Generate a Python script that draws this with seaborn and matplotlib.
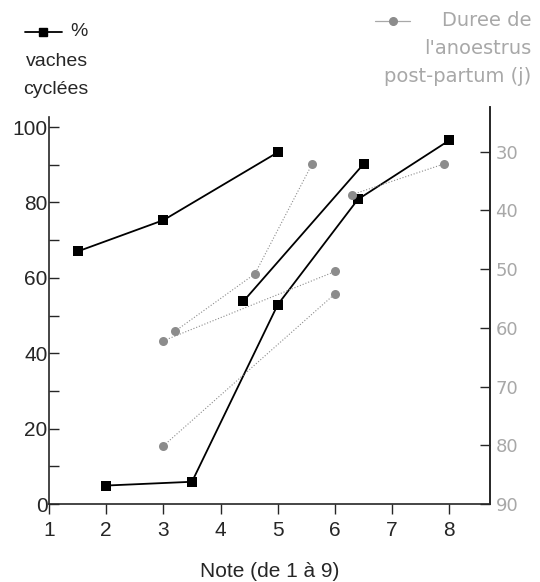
import matplotlib
matplotlib.use("Agg")
import matplotlib.pyplot as plt
import seaborn as sns
import pandas as pd
from matplotlib.lines import Line2D

# % vaches cyclées (left axis), one list per curve
cyc_x = [[1.5, 3, 5], [4.4, 6.5], [2, 3.5, 5, 6.4, 8]]
cyc_y = [[67, 75.3, 93.3], [53.8, 90.2], [4.9, 5.9, 52.9, 80.8, 96.5]]

# Durée de l'anoestrus post-partum en jours (right axis, inverted)
dur_x = [[3.2, 4.6, 5.6], [3, 6], [3, 6], [6.3, 7.9]]
dur_y = [[60.6, 50.8, 32.1], [62.2, 50.4], [80.1, 54.2], [37.3, 32.1]]

x_ticks = [1, 2, 3, 4, 5, 6, 7, 8]
left_ticks = [0, 20, 40, 60, 80, 100]
left_minor = [10, 30, 50, 70, 90]
right_ticks = [30, 40, 50, 60, 70, 80, 90]

GRAY = "#8c8c8c"
LIGHT = "#a8a8a8"
WIDE = ["DejaVu Sans"]

sns.set_style("ticks")
plt.rcParams["font.family"] = ["Liberation Sans", "DejaVu Sans"]

fig = plt.figure(figsize=(5.4, 5.82), dpi=100)
ax = fig.add_axes([0.0907, 0.134, 0.8167, 0.682])
ax2 = ax.twinx()

for xs, ys in zip(cyc_x, cyc_y):
    df = pd.DataFrame({"note": xs, "val": ys})
    sns.lineplot(data=df, x="note", y="val", ax=ax, sort=False, color="black",
                 marker="s", markersize=7, markeredgewidth=0, linewidth=1.3, zorder=3)

for xs, ys in zip(dur_x, dur_y):
    df = pd.DataFrame({"note": xs, "val": ys})
    sns.lineplot(data=df, x="note", y="val", ax=ax2, sort=False, color=GRAY,
                 marker="o", markersize=6.5, markeredgewidth=0, linewidth=0.8,
                 linestyle=":", zorder=2)

ax.set_xlim(1, 8.71)
ax.set_ylim(0, 105.3)
ax2.set_ylim(90, 22.4)

ax.set_xticks(x_ticks)
ax.set_yticks(left_ticks)
ax.set_yticks(left_minor, minor=True)
ax2.set_yticks(right_ticks)

ax.tick_params(axis="x", direction="out", length=7, width=1, labelsize=15, pad=5)
ax.tick_params(axis="y", which="both", direction="in", length=7, width=1,
               labelsize=15, pad=1)
ax2.tick_params(axis="y", direction="in", length=7, width=1, labelsize=13,
                labelcolor=LIGHT, pad=4)
for lab in ax2.get_yticklabels():
    lab.set_family(WIDE)

ax.set_xlabel("Note (de 1 à 9)", fontsize=15, labelpad=16)
ax.set_ylabel("")
ax2.set_ylabel("")

ax.spines["top"].set_visible(False)
ax2.spines["top"].set_visible(False)
ax.spines["left"].set_bounds(0, 102.8)
for a in (ax, ax2):
    for s in a.spines.values():
        s.set_linewidth(1.2)
ax2.spines["left"].set_visible(False)
ax2.spines["bottom"].set_visible(False)

# legend keys drawn at the top, as in the original figure
fig.add_artist(Line2D([25 / 540, 62 / 540], [1 - 32 / 582, 1 - 32 / 582],
                      transform=fig.transFigure, color="black", lw=1.3))
fig.add_artist(Line2D([43 / 540], [1 - 32 / 582], transform=fig.transFigure,
                      color="black", marker="s", markersize=6, lw=0))
fig.text(88 / 540, 1 - 32 / 582, "%", fontsize=14, ha="right", va="center")
fig.text(88 / 540, 1 - 61 / 582, "vaches", fontsize=14, ha="right", va="center")
fig.text(88 / 540, 1 - 89 / 582, "cyclées", fontsize=14, ha="right", va="center")

fig.add_artist(Line2D([375 / 540, 410 / 540], [1 - 21 / 582, 1 - 21 / 582],
                      transform=fig.transFigure, color=LIGHT, lw=0.9))
fig.add_artist(Line2D([393 / 540], [1 - 21 / 582], transform=fig.transFigure,
                      color=GRAY, marker="o", markersize=5.5, lw=0))
for yy, txt in [(21, "Duree de"), (49, "l'anoestrus"), (77, "post-partum (j)")]:
    fig.text(531 / 540, 1 - yy / 582, txt, fontsize=14, ha="right",
             va="center", color=LIGHT, family=WIDE)

fig.savefig("out.png", dpi=100)
